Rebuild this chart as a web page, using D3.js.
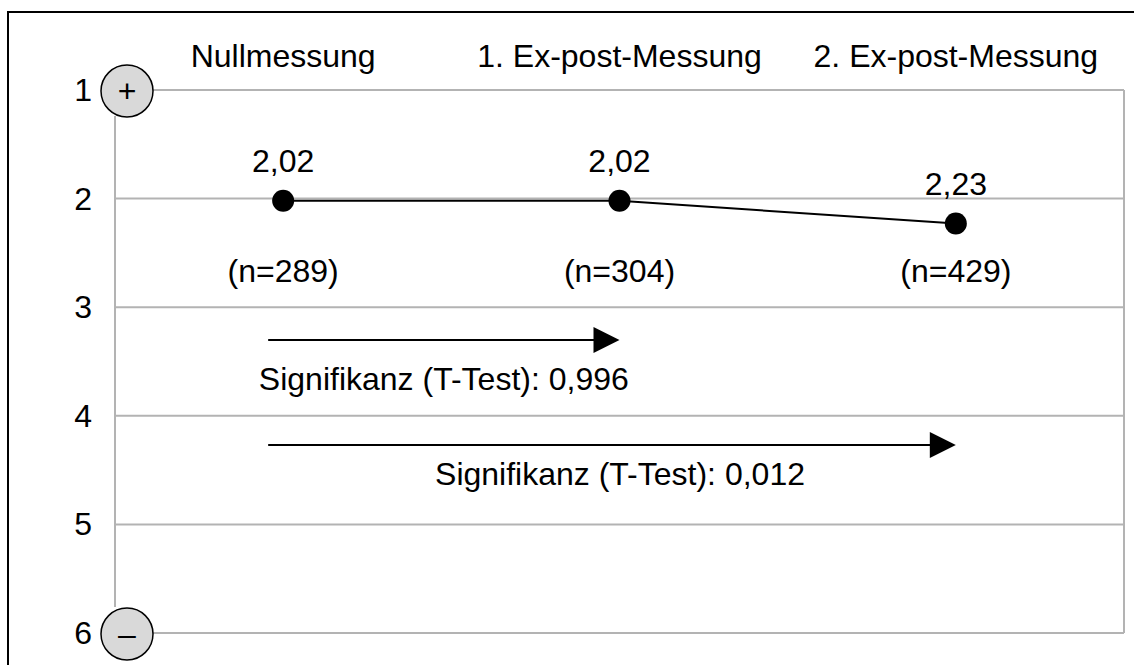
<!DOCTYPE html>
<html>
<head>
<meta charset="utf-8">
<script src="https://cdn.jsdelivr.net/npm/d3@7"></script>
<style>
  html, body { margin: 0; padding: 0; background: #fff; }
  svg { display: block; }
  text { font-family: "Liberation Sans", Arial, Helvetica, sans-serif; fill: #000; }
</style>
</head>
<body>
<div id="chart"></div>
<script>
// Data
const categories = ["Nullmessung", "1. Ex-post-Messung", "2. Ex-post-Messung"];
const means = [2.02, 2.02, 2.23];
const meanLabels = ["2,02", "2,02", "2,23"];
const sampleSizes = [289, 304, 429];
const scaleTicks = [1, 2, 3, 4, 5, 6];
const comparisons = [
  { from: 0, to: 1, label: "Signifikanz (T-Test): 0,996" },
  { from: 0, to: 2, label: "Signifikanz (T-Test): 0,012" }
];

const width = 1134, height = 665;
const plotLeft = 115, plotRight = 1124;

const svg = d3.select("#chart").append("svg")
  .attr("width", width)
  .attr("height", height);

// scales
const x = d3.scaleBand().domain(categories).range([plotLeft, plotRight]);
const cx = c => x(c) + x.bandwidth() / 2;
const y = d3.scaleLinear().domain([1, 6]).range([90, 633]);

// outer frame (runs off right / bottom edges)
svg.append("rect")
  .attr("x", 8).attr("y", 12)
  .attr("width", 1200).attr("height", 800)
  .attr("fill", "none").attr("stroke", "#000").attr("stroke-width", 2);

const grid = "#b3b3b3";
const endR = 26, endX = 127;

// horizontal gridlines
svg.append("g").selectAll("line")
  .data(scaleTicks)
  .join("line")
  .attr("x1", d => (d === 1 || d === 6) ? endX + endR : plotLeft)
  .attr("x2", plotRight)
  .attr("y1", d => y(d)).attr("y2", d => y(d))
  .attr("stroke", grid).attr("stroke-width", 2);

// vertical borders
svg.append("line")
  .attr("x1", plotLeft).attr("x2", plotLeft)
  .attr("y1", y(1) + endR).attr("y2", y(6) - endR)
  .attr("stroke", grid).attr("stroke-width", 2);
svg.append("line")
  .attr("x1", plotRight).attr("x2", plotRight)
  .attr("y1", y(1)).attr("y2", y(6))
  .attr("stroke", grid).attr("stroke-width", 2);

// tick labels
svg.append("g").selectAll("text")
  .data(scaleTicks)
  .join("text")
  .attr("x", 92)
  .attr("y", d => y(d) + 11)
  .attr("text-anchor", "end")
  .style("font-size", "32px")
  .text(d => d);

// + / – end markers
const ends = [{ v: 1, sign: "+" }, { v: 6, sign: "\u2013" }];
const endG = svg.append("g").selectAll("g")
  .data(ends)
  .join("g")
  .attr("transform", d => `translate(${endX},${y(d.v) + 1})`);
endG.append("circle")
  .attr("r", endR)
  .attr("fill", "#d9d9d9").attr("stroke", "#000").attr("stroke-width", 1.5);
endG.append("text")
  .attr("text-anchor", "middle")
  .attr("y", 11)
  .style("font-size", "32px")
  .text(d => d.sign);

// column headers
svg.append("g").selectAll("text")
  .data(categories)
  .join("text")
  .attr("x", d => cx(d))
  .attr("y", 67)
  .attr("text-anchor", "middle")
  .style("font-size", "32px")
  .text(d => d);

// mean line + points
const pts = categories.map((c, i) => ({ c, v: means[i], label: meanLabels[i], n: sampleSizes[i] }));

svg.append("path")
  .datum(pts)
  .attr("d", d3.line().x(d => cx(d.c)).y(d => y(d.v)))
  .attr("fill", "none").attr("stroke", "#000").attr("stroke-width", 2);

svg.append("g").selectAll("circle")
  .data(pts)
  .join("circle")
  .attr("cx", d => cx(d.c))
  .attr("cy", d => y(d.v))
  .attr("r", 11)
  .attr("fill", "#000");

svg.append("g").selectAll("text")
  .data(pts)
  .join("text")
  .attr("x", d => cx(d.c))
  .attr("y", d => y(d.v) - 29)
  .attr("text-anchor", "middle")
  .style("font-size", "32px")
  .text(d => d.label);

svg.append("g").selectAll("text")
  .data(pts)
  .join("text")
  .attr("x", d => cx(d.c))
  .attr("y", 282)
  .attr("text-anchor", "middle")
  .style("font-size", "32px")
  .text(d => `(n=${d.n})`);

// significance arrows
const arrowY = [340, 445];
const labelDy = [50, 40];
const labelDx = [0, 8];
const arrowStart = cx(categories[0]) - 15;
const headLen = 26, headHalf = 13;

const arr = svg.append("g").selectAll("g")
  .data(comparisons)
  .join("g");
arr.append("line")
  .attr("x1", arrowStart)
  .attr("x2", d => cx(categories[d.to]) - headLen + 2)
  .attr("y1", (d, i) => arrowY[i]).attr("y2", (d, i) => arrowY[i])
  .attr("stroke", "#000").attr("stroke-width", 2);
arr.append("path")
  .attr("d", (d, i) => {
    const tx = cx(categories[d.to]), ty = arrowY[i];
    return `M${tx},${ty}L${tx - headLen},${ty - headHalf}L${tx - headLen},${ty + headHalf}Z`;
  })
  .attr("fill", "#000");
arr.append("text")
  .attr("x", (d, i) => (arrowStart + cx(categories[d.to])) / 2 + labelDx[i])
  .attr("y", (d, i) => arrowY[i] + labelDy[i])
  .attr("text-anchor", "middle")
  .style("font-size", "32px")
  .text(d => d.label);
</script>
</body>
</html>
